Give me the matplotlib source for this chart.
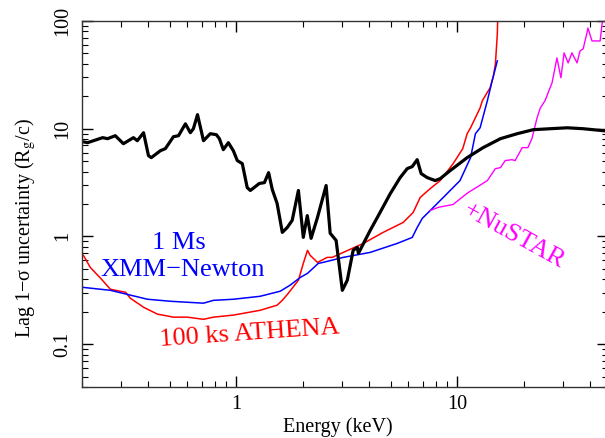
import numpy as np
import matplotlib
matplotlib.use('Agg')
import matplotlib.pyplot as plt
from matplotlib.ticker import FixedLocator, NullFormatter, LogLocator

plt.rcParams['font.family'] = ['Liberation Serif', 'DejaVu Serif']
plt.rcParams['mathtext.fontset'] = 'stix'

# lag uncertainty curves (energy in keV, uncertainty in R_g/c)
black_e = [0.201, 0.212, 0.248, 0.261, 0.283, 0.308, 0.342, 0.356, 0.380, 0.400,
           0.412, 0.453, 0.477, 0.519, 0.547, 0.588, 0.619, 0.639, 0.667, 0.710,
           0.762, 0.812, 0.838, 0.873, 0.920, 0.969, 1.01, 1.064, 1.12, 1.157,
           1.27, 1.34, 1.40, 1.455, 1.53, 1.615, 1.70, 1.79, 1.91, 2.01,
           2.095, 2.18, 2.33, 2.55, 2.66, 2.83, 3.02, 3.18, 3.38, 3.53,
           3.57, 4.04, 4.35, 4.98, 5.52, 5.94, 6.26, 6.59, 6.87, 7.31,
           7.95, 8.38, 9.29, 11.1, 13.1, 15.7, 18.7, 22.1, 26.4, 31.5,
           37.2, 48.0]
black_lag = [7.58, 7.42, 8.26, 8.08, 8.61, 7.26, 8.26, 7.74, 9.18, 5.62,
             5.39, 6.25, 6.53, 8.43, 8.61, 11.1, 9.18, 10.0, 13.5, 7.74,
             8.99, 8.80, 8.08, 6.39, 7.42, 6.25, 5.06, 4.74, 2.84, 2.67,
             3.10, 3.16, 3.91, 2.72, 2.02, 1.09, 1.21, 1.41, 2.67, 0.98,
             1.56, 0.96, 1.50, 2.97, 1.07, 0.918, 0.316, 0.392, 0.742, 0.791,
             0.696, 1.14, 1.50, 2.50, 3.52, 4.26, 4.45, 5.16, 3.83, 3.52,
             3.30, 3.44, 4.08, 5.39, 6.67, 8.08, 8.99, 9.79, 10.0, 10.2,
             10.0, 9.5]

xmm_e = [0.201, 0.269, 0.396, 0.503, 0.710, 0.787, 0.969, 1.28, 1.58, 1.75,
         1.95, 2.10, 2.35, 2.47, 3.05, 4.04, 5.35, 6.26, 6.59, 6.95,
         7.55, 8.65, 10.3, 11.5, 12.1, 12.7, 13.7, 14.4, 15.2]
xmm_lag = [0.337, 0.316, 0.261, 0.250, 0.240, 0.255, 0.261, 0.278, 0.31, 0.352,
           0.417, 0.454, 0.562, 0.574, 0.639, 0.711, 0.861, 0.979, 1.21, 1.47,
           1.74, 2.30, 3.30, 5.39, 8.99, 10.2, 18.2, 27.8, 42.6]

athena_e = [0.203, 0.218, 0.243, 0.269, 0.315, 0.331, 0.380, 0.439, 0.519, 0.600,
            0.710, 0.787, 0.969, 1.28, 1.53, 1.615, 1.72, 1.91, 2.01, 2.10,
            2.16, 2.33, 2.58, 2.72, 3.05, 3.76, 4.62, 5.70, 6.32, 6.80,
            7.55, 8.38, 9.59, 10.6, 11.1, 11.5, 12.7, 13.0, 14.1, 14.6,
            14.9, 15.2, 15.3]
athena_lag = [0.667, 0.516, 0.408, 0.323, 0.303, 0.267, 0.220, 0.190, 0.178, 0.178,
              0.170, 0.178, 0.186, 0.206, 0.230, 0.255, 0.297, 0.392, 0.562, 0.742,
              0.667, 0.574, 0.639, 0.639, 0.711, 0.861, 1.09, 1.35, 1.67, 2.30,
              2.78, 3.30, 4.74, 6.53, 8.99, 10.2, 15.6, 18.2, 24.0, 31.0,
              40.0, 75.8, 130.0]

nustar_e = [7.55, 8.20, 9.10, 9.59, 10.5, 11.2, 12.4, 13.7, 14.9, 15.7,
            16.5, 17.7, 18.3, 19.7, 20.9, 21.8, 23.0, 23.8, 25.0, 25.8,
            26.9, 28.3, 29.5, 30.5, 31.8, 33.1, 34.9, 36.0, 37.2, 38.7,
            39.1, 40.8, 44.4, 45.3, 45.8]
nustar_lag = [1.74, 1.86, 1.94, 1.98, 2.30, 2.55, 2.90, 3.30, 4.26, 4.35,
              5.06, 5.16, 5.06, 6.67, 6.67, 8.08, 12.6, 15.6, 18.2, 21.5,
              26.7, 45.4, 29.7, 50.6, 40.8, 50.6, 40.8, 52.7, 55.1, 77.4,
              86.1, 65.3, 65.3, 93.8, 107.0]

W, H = 605, 438
fig = plt.figure(figsize=(W / 100, H / 100), dpi=100)
ax = fig.add_axes([82 / W, 1 - 387 / H, (608 - 82) / W, (387 - 21) / H])

ax.plot(athena_e, athena_lag, color='#ff0000', lw=1.1)
ax.plot(xmm_e, xmm_lag, color='#0000ff', lw=1.1)
ax.plot(nustar_e, nustar_lag, color='#ff00ff', lw=1.0)
ax.plot(black_e, black_lag, color='black', lw=2.3)

ax.set_xscale('log')
ax.set_yscale('log')
ax.set_xlim(0.2, 48.2)
ax.set_ylim(0.04, 100)

ax.xaxis.set_major_locator(FixedLocator([1, 10]))
ax.set_xticklabels(['1', '10'])
ax.xaxis.set_minor_locator(LogLocator(base=10, subs=np.arange(2, 10)))
ax.xaxis.set_minor_formatter(NullFormatter())
ax.yaxis.set_major_locator(FixedLocator([0.1, 1, 10, 100]))
ax.set_yticklabels(['0.1', '1', '10', '100'], rotation=90, va='center')
ax.yaxis.set_minor_locator(LogLocator(base=10, subs=np.arange(2, 10)))
ax.yaxis.set_minor_formatter(NullFormatter())

ax.tick_params(which='both', direction='in', top=True, right=True, labelsize=14.5)
ax.tick_params(which='major', length=8, width=1)
ax.tick_params(which='minor', length=4.5, width=0.8)
ax.tick_params(axis='x', pad=6)
ax.tick_params(axis='y', pad=7)
for s in ax.spines.values():
    s.set_color('#333333')
    s.set_linewidth(1)

ax.set_xlabel('Energy (keV)', fontsize=14.5)
ax.xaxis.set_label_coords(0.487, -0.083)
ax.set_ylabel('Lag 1\u2212\u03c3 uncertainty (R$_{\\rm g}$/c)', fontsize=14.5)
ax.yaxis.set_label_coords(-0.084, 0.434)

ax.text(0.547, 0.86, '1 Ms', color='#0000ff', fontsize=19, ha='center', va='center')
ax.text(0.57, 0.49, 'XMM\u2212Newton', color='#0000ff', fontsize=19, ha='center', va='center')
ax.text(1.15, 0.124, '100 ks ATHENA', color='#ff0000', fontsize=19, ha='center', va='center',
        rotation=4)
ax.text(18.0, 1.0, '+NuSTAR', color='#ff00ff', fontsize=19, ha='center', va='center',
        rotation=-29)

fig.savefig('out.png', dpi=100)
